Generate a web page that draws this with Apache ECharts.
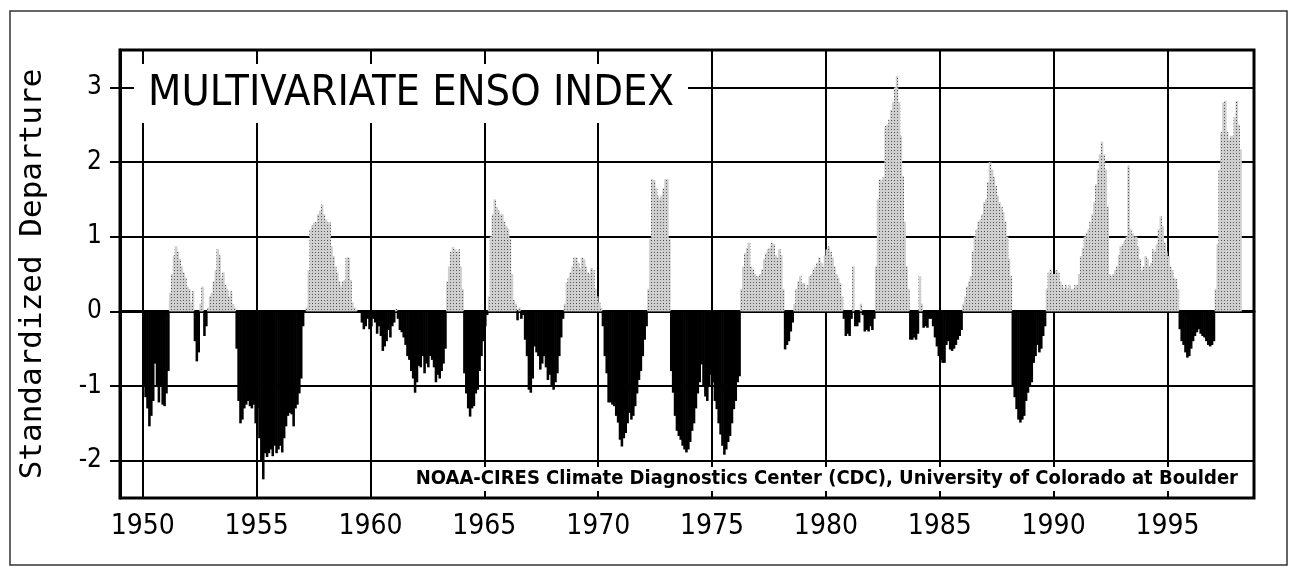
<!DOCTYPE html>
<html>
<head>
<meta charset="utf-8">
<script src="https://cdn.jsdelivr.net/npm/echarts/dist/echarts.min.js"></script>
<style>
html, body { margin: 0; padding: 0; background: #fff; }
#chart { width: 1289px; height: 568px; }
</style>
</head>
<body>
<div id="chart"></div>
<script>
// bimonthly MEI, one value per month starting Jan 1950
const startYear = 1950;
const mei1950s = [
    -1.0, -1.15, -1.3, -1.54, -1.4, -1.2, -0.7, -1.0, -1.22, -1.0, -1.25, -1.27,
    -1.1, -0.8, 0.25, 0.5, 0.75, 0.87, 0.8, 0.7, 0.6, 0.52, 0.45, 0.33,
    0.3, 0.12, 0.27, -0.4, -0.67, -0.55, 0.1, 0.33, -0.33, -0.2, 0.05, 0.2,
    0.25, 0.4, 0.55, 0.83, 0.75, 0.45, 0.52, 0.35, 0.3, 0.2, 0.27, 0.1,
    0.05, -0.5, -1.2, -1.5, -1.45, -1.3, -1.25, -1.2, -1.27, -1.3, -1.25, -1.5,
    -1.3, -1.7, -2.0, -2.25, -1.9, -1.95, -1.9, -1.85, -1.94, -1.8, -1.9, -1.85,
    -1.8, -1.89, -1.7, -1.54, -1.4, -1.36, -1.38, -1.54, -1.3, -1.25, -1.1, -0.9,
    -0.2, 0.0, 0.05, 0.55, 1.1, 1.15, 1.19, 1.2, 1.3, 1.35, 1.43, 1.3,
    1.23, 1.19, 1.19, 0.87, 0.74, 0.6, 0.52, 0.4, 0.33, 0.4, 0.42, 0.72,
    0.72, 0.42, 0.12, 0.05, 0.02, -0.02, 0.0, -0.15, -0.24, -0.2, -0.1, -0.24
];
const mei1960s = [
    -0.2, -0.1, -0.15, -0.3, -0.2, -0.33, -0.53, -0.47, -0.4, -0.25, -0.35, -0.2,
    -0.15, 0.03, -0.1, -0.25, -0.28, -0.35, -0.45, -0.6, -0.65, -0.8, -0.9, -1.09,
    -0.95, -0.73, -0.75, -0.6, -0.83, -0.7, -0.75, -0.6, -0.65, -0.75, -0.95, -0.85,
    -0.9, -0.8, -0.7, -0.5, 0.4, 0.6, 0.8, 0.86, 0.83, 0.8, 0.83, 0.6,
    0.3, -0.83, -1.1, -1.3, -1.41, -1.3, -1.27, -1.1, -1.05, -0.8, -0.6, -0.4,
    -0.2, -0.05, 0.2, 1.0, 1.3, 1.5, 1.4, 1.35, 1.3, 1.3, 1.2, 1.14,
    1.1, 0.97, 0.5, 0.15, 0.1, -0.12, 0.05, -0.1, -0.05, -0.38, -0.6, -1.05,
    -1.09, -0.9, -0.47, -0.55, -0.6, -0.78, -0.7, -0.6, -0.75, -0.92, -0.85, -1.0,
    -1.05, -0.95, -0.83, -0.6, -0.35, -0.1, 0.1, 0.39, 0.45, 0.52, 0.6, 0.72,
    0.72, 0.65, 0.58, 0.72, 0.7, 0.6, 0.52, 0.5, 0.58, 0.55, 0.3, 0.2
];
const mei1970s = [
    0.12, 0.05, -0.2, -0.6, -0.83, -1.22, -1.22, -1.25, -1.27, -1.4, -1.49, -1.72,
    -1.81, -1.7, -1.63, -1.5, -1.36, -1.45, -1.4, -1.27, -1.1, -0.92, -0.8, -0.6,
    -0.38, -0.2, 0.3, 0.97, 1.77, 1.75, 1.65, 1.55, 1.5, 1.55, 1.65, 1.77,
    1.77, 0.97, -0.8, -1.09, -1.4, -1.6, -1.67, -1.72, -1.8, -1.85, -1.89, -1.85,
    -1.75, -1.6, -1.5, -1.3, -1.1, -0.95, -0.71, -1.0, -1.14, -1.2, -1.0, -0.85,
    -0.95, -1.2, -1.31, -1.5, -1.65, -1.8, -1.92, -1.85, -1.75, -1.67, -1.5, -1.31,
    -1.2, -0.95, -0.87, 0.3, 0.6, 0.78, 0.85, 0.92, 0.6, 0.56, 0.5, 0.47,
    0.47, 0.5, 0.56, 0.7, 0.78, 0.83, 0.85, 0.92, 0.9, 0.75, 0.72, 0.83,
    0.75, 0.3, -0.51, -0.45, -0.4, -0.27, -0.15, 0.1, 0.3, 0.4, 0.47, 0.38,
    0.38, 0.3, 0.35, 0.47, 0.5, 0.56, 0.6, 0.65, 0.72, 0.65, 0.6, 0.75
];
const mei1980s = [
    0.83, 0.87, 0.8, 0.72, 0.6, 0.5, 0.45, 0.38, 0.2, -0.1, -0.33, -0.3,
    -0.33, -0.1, 0.6, -0.2, -0.2, -0.15, 0.1, -0.05, -0.27, -0.25, -0.27, -0.2,
    -0.25, -0.1, 0.6, 1.5, 1.77, 1.75, 1.8, 2.48, 2.5, 2.57, 2.7, 2.8,
    3.0, 3.15, 2.8, 2.35, 1.81, 1.2, 0.6, 0.3, -0.38, -0.38, -0.35, -0.38,
    -0.3, 0.47, 0.1, -0.22, -0.2, -0.22, -0.1, -0.1, -0.2, -0.35, -0.47, -0.6,
    -0.65, -0.69, -0.69, -0.45, -0.4, -0.51, -0.53, -0.5, -0.45, -0.38, -0.33, -0.25,
    0.1, 0.2, 0.33, 0.4, 0.47, 0.8, 1.0, 1.1, 1.2, 1.23, 1.3, 1.46,
    1.5, 1.73, 2.0, 1.9, 1.8, 1.68, 1.55, 1.46, 1.4, 1.33, 1.2, 1.0,
    0.7, 0.47, -1.0, -1.15, -1.31, -1.45, -1.49, -1.45, -1.4, -1.2, -1.09, -1.0,
    -0.95, -0.69, -0.6, -0.45, -0.55, -0.5, -0.33, -0.2, 0.3, 0.52, 0.56, 0.5
];
const mei1990s = [
    0.5, 0.55, 0.52, 0.4, 0.35, 0.3, 0.35, 0.3, 0.35, 0.3, 0.3, 0.35,
    0.35, 0.5, 0.74, 0.85, 1.0, 1.05, 1.1, 1.2, 1.3, 1.46, 1.7, 1.9,
    2.1, 2.27, 2.1, 1.9, 1.4, 0.5, 0.47, 0.5, 0.55, 0.6, 0.75, 0.87,
    0.9, 0.95, 1.0, 1.95, 1.1, 1.05, 1.0, 1.0, 0.87, 0.7, 0.55, 0.6,
    0.74, 0.7, 0.6, 0.65, 0.83, 0.8, 0.9, 1.1, 1.27, 1.14, 0.92, 0.8,
    0.74, 0.6, 0.55, 0.45, 0.43, 0.3, -0.24, -0.4, -0.45, -0.55, -0.62, -0.6,
    -0.5, -0.4, -0.33, -0.28, -0.24, -0.3, -0.33, -0.35, -0.4, -0.45, -0.47, -0.45,
    -0.4, 0.3, 0.9, 1.9, 2.4, 2.8, 2.82, 2.4, 2.3, 2.35, 2.35, 2.6,
    2.82, 2.5, 2.17
];

const xTicks = [1950, 1955, 1960, 1965, 1970, 1975, 1980, 1985, 1990, 1995];
const yTicks = [-2, -1, 0, 1, 2, 3];

const titleText = 'MULTIVARIATE ENSO INDEX';
const creditText = 'NOAA-CIRES Climate Diagnostics Center (CDC), University of Colorado at Boulder';
const yName = 'Standardized Departure';

const meiValues = [].concat(mei1950s, mei1960s, mei1970s, mei1980s, mei1990s);

const posStyle = {
    color: '#cfcfcf',
    decal: {
        symbol: 'rect',
        symbolSize: 1,
        color: 'rgba(0,0,0,0.6)',
        dashArrayX: [1, 2],
        dashArrayY: [1, 2],
        rotation: 0
    }
};
const negStyle = { color: '#000' };

const barData = meiValues.map((v, i) => ({
    value: [startYear + (i + 0.5) / 12, v],
    itemStyle: v >= 0 ? posStyle : negStyle
}));

const narrow = '"DejaVu Sans Condensed", "Liberation Sans Narrow", sans-serif';
const gridLine = { show: true, lineStyle: { color: '#000', width: 2 } };

const chart = echarts.init(document.getElementById('chart'));

chart.setOption({
    animation: false,
    backgroundColor: '#fff',
    title: [
        {
            text: titleText,
            left: 134,
            top: 64,
            padding: [8, 14, 8, 14],
            backgroundColor: '#fff',
            textStyle: { fontFamily: narrow, fontWeight: 'normal', fontSize: 43, color: '#000' }
        },
        {
            text: creditText,
            right: 47,
            top: 467,
            padding: [2, 4],
            backgroundColor: '#fff',
            textStyle: { fontFamily: narrow, fontWeight: 'bold', fontSize: 20, color: '#000' }
        }
    ],
    grid: {
        left: 120, right: 35, top: 50, bottom: 70,
        show: true, borderColor: '#000', borderWidth: 3
    },
    xAxis: {
        type: 'value',
        min: 1949,
        max: 1998.8,
        axisLine: { lineStyle: { color: '#000', width: 3 } },
        axisTick: { customValues: xTicks, length: 12, lineStyle: { color: '#000', width: 2 } },
        axisLabel: {
            customValues: xTicks,
            margin: 15,
            fontSize: 28,
            fontFamily: narrow,
            color: '#000',
            formatter: v => String(v)
        },
        splitLine: gridLine
    },
    yAxis: {
        type: 'value',
        min: -2.5,
        max: 3.5,
        name: yName,
        nameLocation: 'middle',
        nameGap: 72,
        nameTextStyle: { fontFamily: '"DejaVu Sans Mono", monospace', fontSize: 31, color: '#000' },
        axisLine: { show: true, lineStyle: { color: '#000', width: 3 } },
        axisTick: { show: true, customValues: yTicks, length: 10, lineStyle: { color: '#000', width: 2 } },
        axisLabel: {
            customValues: yTicks,
            margin: 18,
            fontSize: 26,
            fontFamily: narrow,
            color: '#000'
        },
        splitLine: gridLine
    },
    series: [{
        type: 'bar',
        barWidth: '135%',
        silent: true,
        data: barData
    }],
    graphic: [{
        type: 'rect',
        shape: { x: 10, y: 11, width: 1277, height: 554 },
        style: { fill: 'none', stroke: '#333', lineWidth: 1.5 },
        silent: true
    }]
});
</script>
</body>
</html>
